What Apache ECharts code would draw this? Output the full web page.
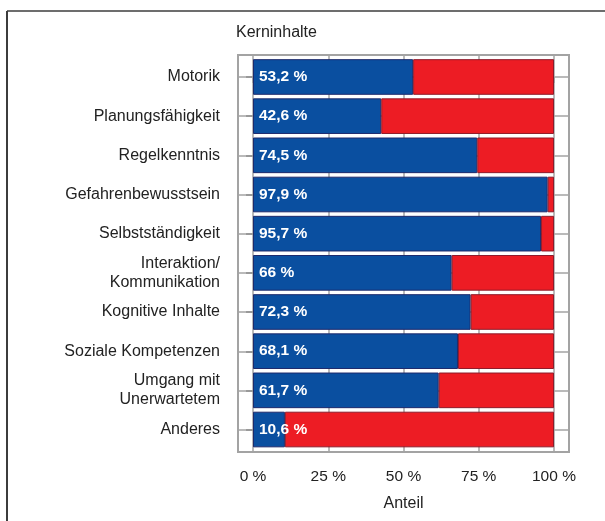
<!DOCTYPE html>
<html><head><meta charset="utf-8">
<script src="https://cdn.jsdelivr.net/npm/echarts@6/dist/echarts.min.js"></script>
<style>html,body{margin:0;padding:0;background:#fff}#c{width:605px;height:521px}</style>
</head><body><div id="c"></div>
<script>
const categories = ['Motorik','Planungsfähigkeit','Regelkenntnis','Gefahrenbewusstsein','Selbstständigkeit','Interaktion/\nKommunikation','Kognitive Inhalte','Soziale Kompetenzen','Umgang mit\nUnerwartetem','Anderes'];
const shareValues = [53.2,42.6,74.5,97.9,95.7,66,72.3,68.1,61.7,10.6];
const restValues = [46.8,57.4,25.5,2.1,4.3,34,27.7,31.9,38.3,89.4];
const xTicks = [0,25,50,75,100];
const rowTicks = [0,1,2,3,4,5,6,7,8,9];
const FONT = '"Liberation Sans", Arial, sans-serif';
const GRID = '#a3a3a3';

const chart = echarts.init(document.getElementById('c'), null, {renderer:'canvas'});
chart.setOption({
  animation:false,
  backgroundColor:'#fff',
  textStyle:{fontFamily:FONT},
  title:{text:'Kerninhalte', left:236, top:25, padding:0,
    textStyle:{fontFamily:FONT, fontSize:16, fontWeight:'normal', color:'#222'}},
  graphic:[
    {type:'line', shape:{x1:7,y1:11,x2:605,y2:11}, style:{stroke:'#3c3c3c', lineWidth:1.6}},
    {type:'line', shape:{x1:7,y1:11,x2:7,y2:521}, style:{stroke:'#3c3c3c', lineWidth:2}}
  ],
  grid:[
    {left:238, right:36, top:55, bottom:69, show:true, borderColor:GRID, borderWidth:2, backgroundColor:'transparent'},
    {left:253, right:51, top:57.4, bottom:71.9}
  ],
  xAxis:[
    {gridIndex:0, type:'value', min:-5, max:105, position:'bottom',
      axisLine:{show:false},
      axisTick:{show:true, customValues:xTicks, length:6, lineStyle:{color:'#999', width:1.5}},
      axisLabel:{customValues:xTicks, formatter:v=>v+' %', fontSize:15.5, color:'#222', margin:17, fontFamily:FONT},
      splitLine:{show:true, lineStyle:{color:GRID, width:1.5}},
      name:'Anteil', nameLocation:'middle', nameGap:44,
      nameTextStyle:{fontSize:16, color:'#222', fontFamily:FONT}},
    {gridIndex:1, type:'value', min:0, max:100, show:false}
  ],
  yAxis:[
    {gridIndex:0, type:'value', inverse:true, min:-0.56, max:9.57,
      axisLine:{show:false},
      axisTick:{show:true, customValues:rowTicks, length:7, lineStyle:{color:'#999', width:2}},
      axisLabel:{show:false},
      splitLine:{show:true, lineStyle:{color:GRID, width:1.5}}},
    {gridIndex:1, type:'category', data:categories, inverse:true,
      axisLine:{show:false}, axisTick:{show:false},
      axisLabel:{margin:33, fontSize:16, color:'#222', lineHeight:19, align:'right', fontFamily:FONT}}
  ],
  series:[
    {type:'bar', xAxisIndex:1, yAxisIndex:1, stack:'s', data:shareValues, barCategoryGap:'9%',
      itemStyle:{color:'#0a4fa0', borderColor:'#1d2a6c', borderWidth:1},
      label:{show:true, position:'insideLeft', distance:6, color:'#fff', fontWeight:'bold', fontSize:15.5, fontFamily:FONT,
        formatter:p=>String(p.value).replace('.',',')+' %'}},
    {type:'bar', xAxisIndex:1, yAxisIndex:1, stack:'s', data:restValues, barCategoryGap:'9%',
      itemStyle:{color:'#ed1c24', borderColor:'#8e1b2a', borderWidth:1}}
  ]
});
</script></body></html>
